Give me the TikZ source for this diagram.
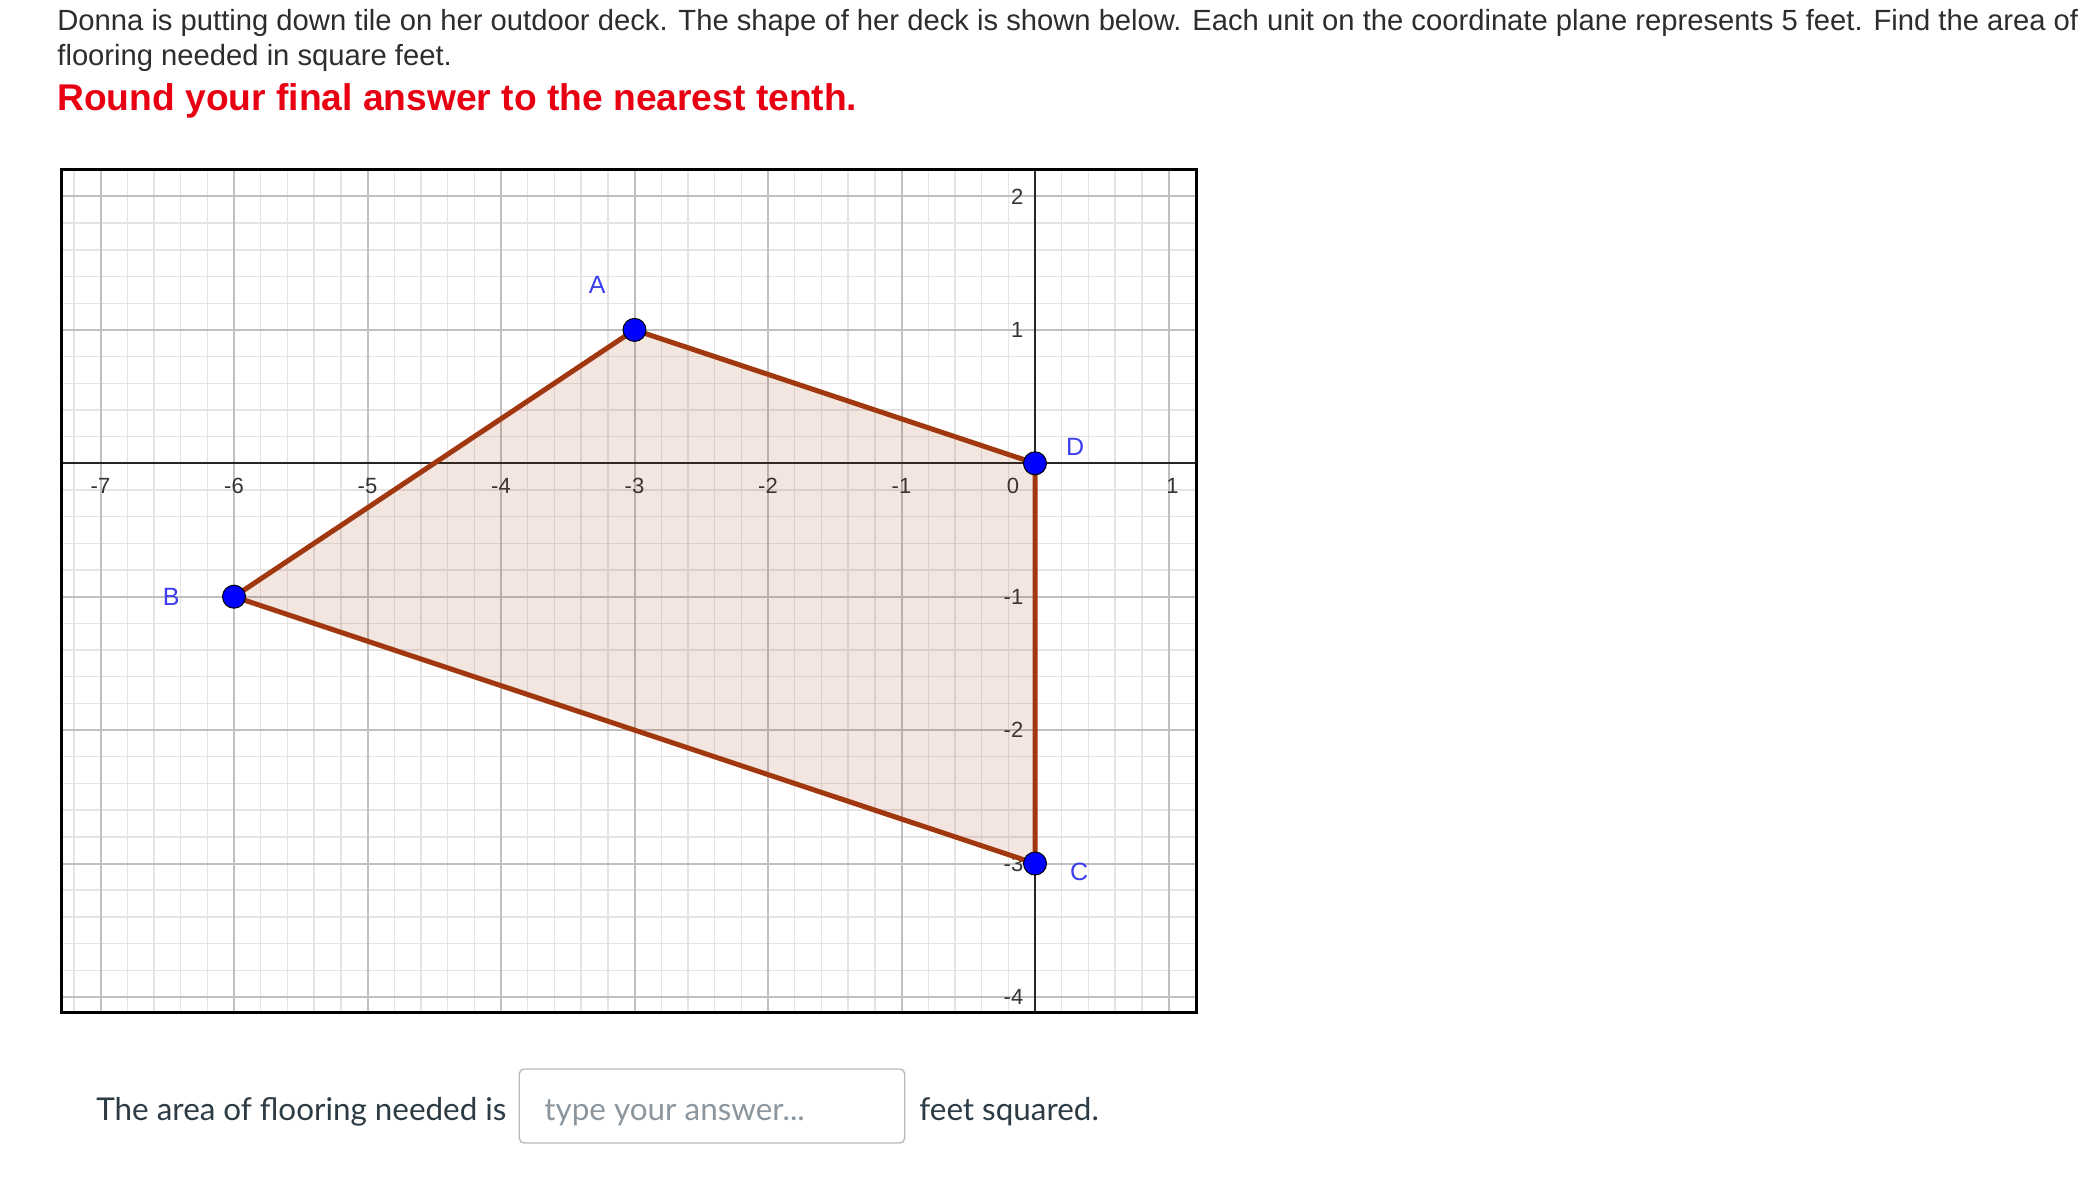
\documentclass[tikz,border=0pt]{standalone}
\usepackage{fontspec}
\usepackage{xcolor}
\setmainfont{Liberation Sans}
\newfontfamily\latofont{Lato}
\definecolor{deckline}{RGB}{160,55,15}
\definecolor{pointblue}{RGB}{0,0,255}
\definecolor{labelblue}{RGB}{60,60,240}
\definecolor{textgray}{RGB}{45,45,45}
\definecolor{canvasgray}{RGB}{45,59,69}
\definecolor{hintgray}{RGB}{139,150,158}
\definecolor{roundred}{RGB}{232,0,18}
\definecolor{majorgray}{RGB}{192,192,192}
\definecolor{minorgray}{RGB}{228,228,228}
\tikzstyle{blue point}=[
        circle,
        draw = black,
        line width = 0.5pt,
        fill = pointblue,
        minimum size = 11.5pt,
        inner sep = 0pt
    ]
\tikzstyle{point label}=[
    text = labelblue,
    font = \fontsize{12.5}{15}\selectfont
]
\tikzstyle{tick label}=[
    text = black!80,
    inner sep = 1pt,
    font = \fontsize{11}{13}\selectfont
]
\tikzstyle{deck edge}=[
    draw = deckline,
    line width = 2.5pt,
    line join = round
]
\tikzstyle{answer box}=[
    draw = gray!55,
    line width = 0.7pt,
    rounded corners = 2.5pt,
    minimum width = 192.75pt,
    minimum height = 37pt
]

\begin{document}
\begin{tikzpicture}[x=0.5pt, y=-0.5pt, line text/.style={anchor=base west, inner sep=0pt}]
        \useasboundingbox (0,0) rectangle (2094,1182);
        \fill[white] (0,0) rectangle (2094,1182);

        \node[line text, text=textgray, font=\fontsize{14.6}{17}\selectfont] (q1) at (57,31) {Donna is putting down tile on her outdoor deck. The shape of her deck is shown below. Each unit on the coordinate plane represents 5 feet. Find the area of};
        \node[line text, text=textgray, font=\fontsize{14.6}{17}\selectfont] (q2) at (57,66) {flooring needed in square feet.};
        \node[line text, text=roundred, font=\fontsize{18.6}{22}\selectfont\bfseries] (round) at (57,111) {Round your final answer to the nearest tenth.};

        \begin{scope}[shift={(1035,463.3)}, x=66.75pt, y=66.7pt]
            \foreach \i in {-36,...,6}
                \draw[minorgray, line width=0.7pt] (\i/5,-4.12) -- (\i/5,2.206);
            \foreach \j in {-20,...,11}
                \draw[minorgray, line width=0.7pt] (-7.29,\j/5) -- (1.207,\j/5);
            \foreach \i in {-7,...,1}
                \draw[majorgray, line width=1pt] (\i,-4.12) -- (\i,2.206);
            \foreach \j in {-4,...,2}
                \draw[majorgray, line width=1pt] (-7.29,\j) -- (1.207,\j);
            \draw[black!85, line width=1.1pt] (-7.29,0) -- (1.207,0);
            \draw[black!85, line width=1.1pt] (0,-4.12) -- (0,2.206);

            \foreach \x in {-7,...,-1}
                \node[tick label] (x\x) at (\x,-0.17) {\x};
            \node[tick label] (x0) at (-0.165,-0.17) {0};
            \node[tick label] (x1) at (1.03,-0.17) {1};
            \foreach \y in {2,1,-1,-2,-3,-4}
                \node[tick label, anchor=east] (y\y) at (-0.07,\y) {\y};

            \coordinate (A) at (-3,1);
            \coordinate (B) at (-6,-1);
            \coordinate (C) at (0,-3);
            \coordinate (D) at (0,0);
            \fill[deckline, fill opacity=0.12] (A) -- (B) -- (C) -- (D) -- cycle;
            \draw[deck edge] (A) -- (B) -- (C) -- (D) -- cycle;

            \node[blue point] (pA) at (A) {};
            \node[blue point] (pB) at (B) {};
            \node[blue point] (pC) at (C) {};
            \node[blue point] (pD) at (D) {};
            \node[point label] (lA) at (-3.28,1.34) {A};
            \node[point label] (lB) at (-6.47,-1.0) {B};
            \node[point label] (lC) at (0.33,-3.06) {C};
            \node[point label] (lD) at (0.30,0.12) {D};

            \draw[black, line width=1.5pt] (-7.29,-4.12) rectangle (1.207,2.206);
        \end{scope}

        \node[line text, text=canvasgray, font=\latofont\fontsize{15.7}{19}\selectfont] (ans) at (96,1120) {The area of flooring needed is};
        \node[answer box] (box) at (712,1106) {};
        \node[line text, text=hintgray, font=\latofont\fontsize{15.7}{19}\selectfont] (hint) at (544,1120) {type your answer...};
        \node[line text, text=canvasgray, font=\latofont\fontsize{15.7}{19}\selectfont] (unit) at (919,1120) {feet squared.};

    \end{tikzpicture}
\end{document}
